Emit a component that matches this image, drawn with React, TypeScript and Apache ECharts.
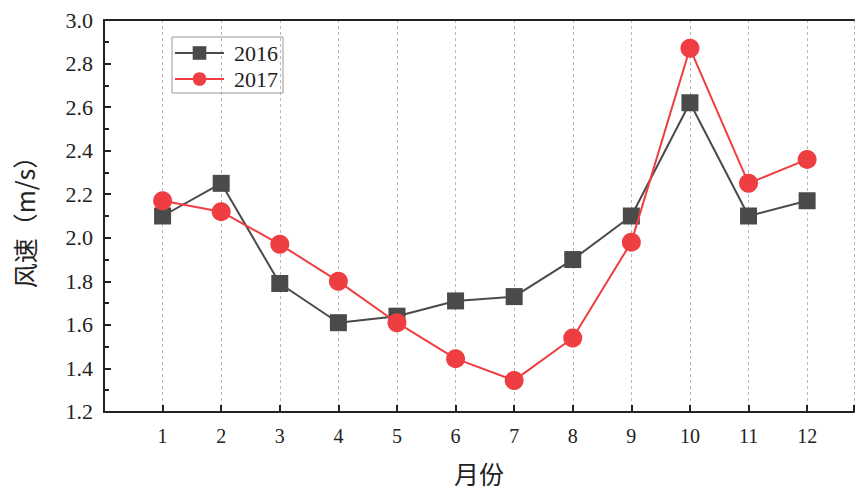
import React, { useEffect, useRef } from "react";
import * as echarts from "echarts";

const months = [1, 2, 3, 4, 5, 6, 7, 8, 9, 10, 11, 12];
const speed2016 = [2.10, 2.25, 1.79, 1.61, 1.64, 1.71, 1.73, 1.90, 2.10, 2.62, 2.10, 2.17];
const speed2017 = [2.17, 2.12, 1.97, 1.80, 1.61, 1.445, 1.345, 1.54, 1.98, 2.87, 2.25, 2.36];
const seriesNames = ["2016", "2017"];
const xAxisTitle = "月份";
const yAxisTitle = "风速（m/s）";

const SERIF = "'Liberation Serif', 'DejaVu Serif', serif";
const CJK = "'Noto Sans CJK SC', sans-serif";
const AXIS_COLOR = "#222";

export default function App() {
  const ref = useRef<HTMLDivElement>(null);

  useEffect(() => {
    if (!ref.current) return;
    const chart = echarts.init(ref.current, undefined, { renderer: "svg" });
    const pairs = (ys: number[]) => months.map((m, i) => [m, ys[i]]);

    chart.setOption({
      animation: false,
      backgroundColor: "#fff",
      grid: { left: 104, right: 2, top: 20, bottom: 73, containLabel: false },
      legend: {
        orient: "vertical",
        left: 172,
        top: 37,
        data: seriesNames,
        itemWidth: 49,
        itemHeight: 17,
        itemGap: 4,
        padding: [5, 5, 3, 2],
        borderColor: "#999",
        borderWidth: 1,
        textStyle: { fontFamily: SERIF, fontSize: 22, color: "#222", padding: [0, 0, 0, 5] },
      },
      xAxis: [
        {
          type: "value",
          min: 0,
          max: 12.8,
          interval: 1,
          name: xAxisTitle,
          nameLocation: "middle",
          nameGap: 48,
          nameTextStyle: { fontFamily: CJK, fontSize: 25, color: "#222" },
          axisLine: { show: true, onZero: false, lineStyle: { color: AXIS_COLOR, width: 2 } },
          axisTick: { show: true, inside: true, length: 7, lineStyle: { color: AXIS_COLOR, width: 2 } },
          axisLabel: {
            margin: 14,
            fontFamily: SERIF,
            fontSize: 20,
            color: "#222",
            showMinLabel: false,
            formatter: (v: number) => (Number.isInteger(v) && v >= 1 && v <= 12 ? String(v) : ""),
          },
          splitLine: { show: true, lineStyle: { color: "#b8b8b8", type: [3, 3], width: 1 } },
        },
        {
          type: "value",
          position: "top",
          min: 0,
          max: 12.8,
          axisLine: { show: true, lineStyle: { color: AXIS_COLOR, width: 2 } },
          axisTick: { show: false },
          axisLabel: { show: false },
          splitLine: { show: false },
        },
      ],
      yAxis: {
        type: "value",
        min: 1.2,
        max: 3.0,
        interval: 0.2,
        name: yAxisTitle,
        nameLocation: "middle",
        nameGap: 68,
        nameRotate: 90,
        nameTextStyle: { fontFamily: CJK, fontSize: 25, color: "#222" },
        axisLine: { show: true, lineStyle: { color: AXIS_COLOR, width: 2 } },
        axisTick: { show: true, inside: true, length: 7, lineStyle: { color: AXIS_COLOR, width: 2 } },
        minorTick: { show: true, splitNumber: 2, length: 5, lineStyle: { color: AXIS_COLOR, width: 2 } },
        axisLabel: {
          margin: 11,
          fontFamily: SERIF,
          fontSize: 22,
          color: "#222",
          padding: [6, 0, 0, 0],
          formatter: (v: number) => v.toFixed(1),
        },
        splitLine: { show: false },
      },
      series: [
        {
          name: seriesNames[0],
          type: "line",
          data: pairs(speed2016),
          symbol: "rect",
          symbolSize: 17,
          itemStyle: { color: "#4a4a4a" },
          lineStyle: { color: "#4a4a4a", width: 2 },
          z: 2,
        },
        {
          name: seriesNames[1],
          type: "line",
          data: pairs(speed2017),
          symbol: "circle",
          symbolSize: 19,
          itemStyle: { color: "#ef3e42" },
          lineStyle: { color: "#ef3e42", width: 2 },
          z: 3,
        },
      ],
    });

    return () => chart.dispose();
  }, []);

  return (
    <div
      ref={ref}
      style={{ position: "fixed", left: 0, top: 0, width: 857, height: 490 }}
    />
  );
}
